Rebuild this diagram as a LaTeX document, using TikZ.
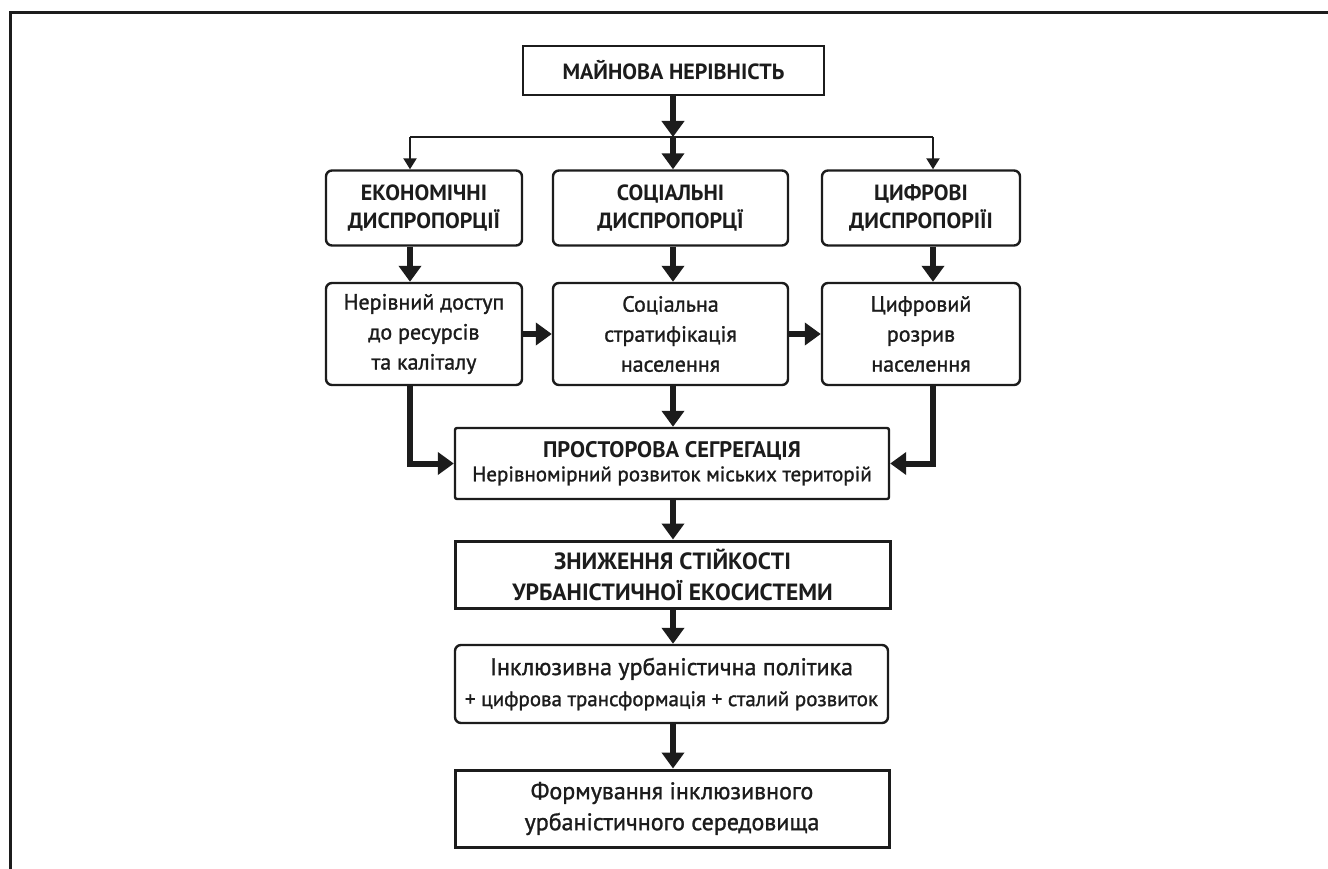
\documentclass[tikz,border=0pt]{standalone}
\usepackage{fontspec}
\setmainfont{PT Sans}
\newfontfamily\bodyfamily{PT Sans}[FakeBold=1.2]
\usepackage{xcolor}
\usepackage{tikz}
\usetikzlibrary{calc,arrows.meta}
\definecolor{ink}{HTML}{1C1C1C}
\tikzset{
  box/.style={draw=ink, line width=2.4pt, fill=white, text=ink, align=center, inner sep=0pt},
  roundbox/.style={box, rounded corners=6pt},
  heavybox/.style={box, line width=3pt},
  capsfont/.style={font=\bfseries\fontsize{22}{28}\selectfont},
  bodyfont/.style={font=\bodyfamily\fontsize{22}{30}\selectfont},
  fatarrow/.style={draw=ink, line width=6pt, -{Triangle[width=22pt,length=16pt]}},
  thinarrow/.style={draw=ink, line width=2.2pt, -{Triangle[width=13pt,length=11pt]}},
  bus/.style={draw=ink, line width=2pt},
  frameline/.style={draw=ink, line width=3pt},
}

\begin{document}
\begin{tikzpicture}[x=1pt,y=-1pt]
  \useasboundingbox (0,0) rectangle (1328,869);
  \fill[white] (0,0) rectangle (1328,869);
  \draw[frameline] (10,869) -- (10,13) -- (1328,13);

  % top
  \node[box, capsfont, minimum width=301, minimum height=49] (wealth) at (673.5,70.5) {МАЙНОВА НЕРІВНІСТЬ};

  % row of disproportions
  \node[roundbox, capsfont, minimum width=196, minimum height=75] (econ) at (424,208) {ЕКОНОМІЧНІ\\ДИСПРОПОРЦІЇ};
  \node[roundbox, capsfont, minimum width=235, minimum height=75] (social) at (670.5,208) {СОЦІАЛЬНІ\\ДИСПРОПОРЦЇ};
  \node[roundbox, capsfont, minimum width=198, minimum height=75] (digital) at (921,208) {ЦИФРОВІ\\ДИСПРОПОРІЇІ};

  % row of consequences
  \node[roundbox, bodyfont, minimum width=196, minimum height=102] (access) at (424,334) {Нерівний доступ\\до ресурсів\\та каліталу};
  \node[roundbox, bodyfont, minimum width=235, minimum height=102] (strat) at (670.5,334) {Соціальна\\стратифікація\\населення};
  \node[roundbox, bodyfont, minimum width=198, minimum height=102] (gap) at (921,334) {Цифровий\\розрив\\населення};

  % chain
  \node[box, rounded corners=2pt, minimum width=434, minimum height=71] (segreg) at (672,463.5)
    {\bfseries\fontsize{22.5}{30}\selectfont ПРОСТОРОВА СЕГРЕГАЦІЯ\\[5pt]{\bodyfamily\fontsize{21}{30}\selectfont Нерівномірний розвиток міських територій}};
  \node[heavybox, font=\bfseries\fontsize{23.5}{31}\selectfont, minimum width=435, minimum height=67] (resil) at (672.5,574.5)
    {ЗНИЖЕННЯ СТІЙКОСТІ\\УРБАНІСТИЧНОЇ ЕКОСИСТЕМИ};
  \node[roundbox, font=\bodyfamily\fontsize{24}{31}\selectfont, minimum width=433, minimum height=78] (policy) at (671.5,684)
    {Інклюзивна урбаністична політика\\{\fontsize{21}{28}\selectfont + цифрова трансформація + сталий розвиток}};
  \node[heavybox, font=\bodyfamily\fontsize{24}{31}\selectfont, minimum width=434, minimum height=77] (urban) at (672,808.5)
    {Формування інклюзивного\\урбаністичного середовища};

  % split
  \coordinate (splitL) at (410,137);
  \coordinate (splitC) at (673,137);
  \coordinate (splitR) at (933,137);
  \draw[bus] (splitL) -- (splitR);
  \draw[fatarrow] (wealth.south -| splitC) -- (splitC);
  \draw[fatarrow] (splitC) -- (social.north -| splitC);
  \draw[thinarrow] (splitL) -- (econ.north -| splitL);
  \draw[thinarrow] (splitR) -- (digital.north -| splitR);

  \draw[fatarrow] (econ.south -| splitL) -- (access.north -| splitL);
  \draw[fatarrow] (social.south -| splitC) -- (strat.north -| splitC);
  \draw[fatarrow] (digital.south -| splitR) -- (gap.north -| splitR);
  \draw[fatarrow] (access.east) -- (strat.west);
  \draw[fatarrow] (strat.east) -- (gap.west);

  \draw[fatarrow] (access.south -| splitL) |- (segreg.west);
  \draw[fatarrow] (gap.south -| splitR) |- (segreg.east);
  \draw[fatarrow] (strat.south -| splitC) -- (segreg.north -| splitC);
  \draw[fatarrow] (segreg.south -| splitC) -- (resil.north -| splitC);
  \draw[fatarrow] (resil.south -| splitC) -- (policy.north -| splitC);
  \draw[fatarrow] (policy.south -| splitC) -- (urban.north -| splitC);
\end{tikzpicture}
\end{document}
